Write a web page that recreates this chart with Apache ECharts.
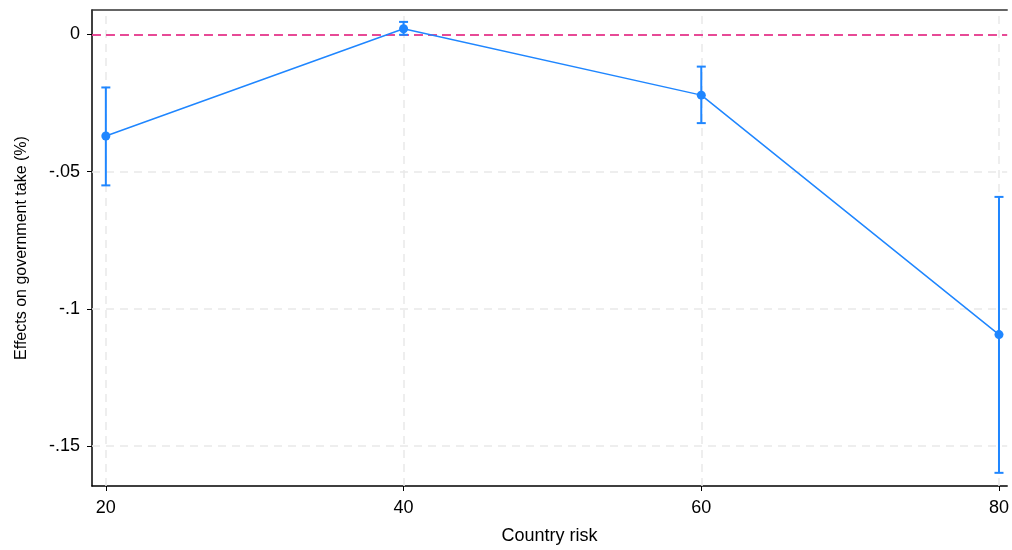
<!DOCTYPE html>
<html>
<head>
<meta charset="utf-8">
<script src="https://cdn.jsdelivr.net/npm/echarts@6/dist/echarts.min.js"></script>
<style>html,body{margin:0;padding:0;background:#fff;overflow:hidden}#c{width:1012px;height:550px}</style>
</head>
<body>
<div id="c"></div>
<script>
const riskLevels = [20, 40, 60, 80];
const estimates = [-0.0370, 0.0021, -0.0221, -0.1094];
const ciLower = [-0.0550, -0.0001, -0.0323, -0.1598];
const ciUpper = [-0.0193, 0.0046, -0.0117, -0.0592];
const xTicks = [20, 40, 60, 80];
const yTicks = [0, -0.05, -0.1, -0.15];
const refLine = 0;

const fmtY = v => {
  if (Math.abs(v) < 1e-9) return '0';
  let s = String(Math.round(v * 1000) / 1000);
  return s.replace(/^(-?)0\./, '$1.');
};

const chart = echarts.init(document.getElementById('c'), null, {renderer: 'canvas', width: 1012, height: 550});
const blue = '#1f86ff';
const font = 'Liberation Sans, Arial, sans-serif';

const gridLineData = [];
xTicks.forEach(v => gridLineData.push({xAxis: v}));
yTicks.forEach(v => gridLineData.push({yAxis: v}));

const xMin = 19.07, xMax = 80.55;

chart.setOption({
  animation: false,
  backgroundColor: '#fff',
  grid: {left: 92, width: 920, top: 10, bottom: 61, containLabel: false},
  xAxis: [{
    type: 'value', min: xMin, max: xMax,
    name: 'Country risk', nameLocation: 'middle', nameGap: 41,
    nameTextStyle: {fontFamily: font, fontSize: 18, color: '#000'},
    axisLine: {show: true, onZero: false, lineStyle: {color: '#000', width: 1.5}},
    axisTick: {show: true, length: 5, customValues: xTicks, lineStyle: {color: '#000', width: 1}},
    axisLabel: {customValues: xTicks, fontFamily: font, fontSize: 18, color: '#000', margin: 13},
    splitLine: {show: false}
  }, {
    type: 'value', position: 'top', min: xMin, max: xMax,
    axisLine: {show: true, onZero: false, lineStyle: {color: '#333', width: 1.5}},
    axisTick: {show: false}, axisLabel: {show: false}, splitLine: {show: false}
  }],
  yAxis: {
    type: 'value', min: -0.1646, max: 0.00894,
    name: 'Effects on government take (%)', nameLocation: 'middle', nameGap: 62,
    nameTextStyle: {fontFamily: font, fontSize: 16, color: '#000'},
    axisLine: {show: true, onZero: false, lineStyle: {color: '#000', width: 1.5}},
    axisTick: {show: true, length: 5, customValues: yTicks, lineStyle: {color: '#000', width: 1}},
    axisLabel: {customValues: yTicks, formatter: fmtY, fontFamily: font, fontSize: 18, color: '#000', margin: 12},
    splitLine: {show: false}
  },
  series: [
    {
      type: 'line', data: [], silent: true, z: 1,
      markLine: {
        silent: true, symbol: 'none', label: {show: false}, z: 1,
        lineStyle: {color: '#e9e9e9', type: [8, 6], width: 1.5},
        data: gridLineData
      }
    },
    {
      type: 'line', data: [], silent: true, z: 2,
      markLine: {
        silent: true, symbol: 'none', label: {show: false}, z: 2,
        lineStyle: {color: '#e5157a', type: [9, 5], width: 1.5},
        data: [{yAxis: refLine}]
      }
    },
    {
      type: 'custom',
      data: riskLevels.map((x, i) => [x, ciLower[i], ciUpper[i]]),
      renderItem: (params, api) => {
        const lo = api.coord([api.value(0), api.value(1)]);
        const hi = api.coord([api.value(0), api.value(2)]);
        const w = 4.5;
        const st = {stroke: blue, lineWidth: 2};
        return {type: 'group', children: [
          {type: 'line', shape: {x1: lo[0], y1: lo[1], x2: hi[0], y2: hi[1]}, style: st},
          {type: 'line', shape: {x1: lo[0] - w, y1: lo[1], x2: lo[0] + w, y2: lo[1]}, style: st},
          {type: 'line', shape: {x1: hi[0] - w, y1: hi[1], x2: hi[0] + w, y2: hi[1]}, style: st}
        ]};
      },
      z: 10
    },
    {
      type: 'line',
      data: riskLevels.map((x, i) => [x, estimates[i]]),
      symbol: 'circle', symbolSize: 9,
      itemStyle: {color: blue},
      lineStyle: {color: blue, width: 1.5},
      z: 11
    }
  ]
});
</script>
</body>
</html>
